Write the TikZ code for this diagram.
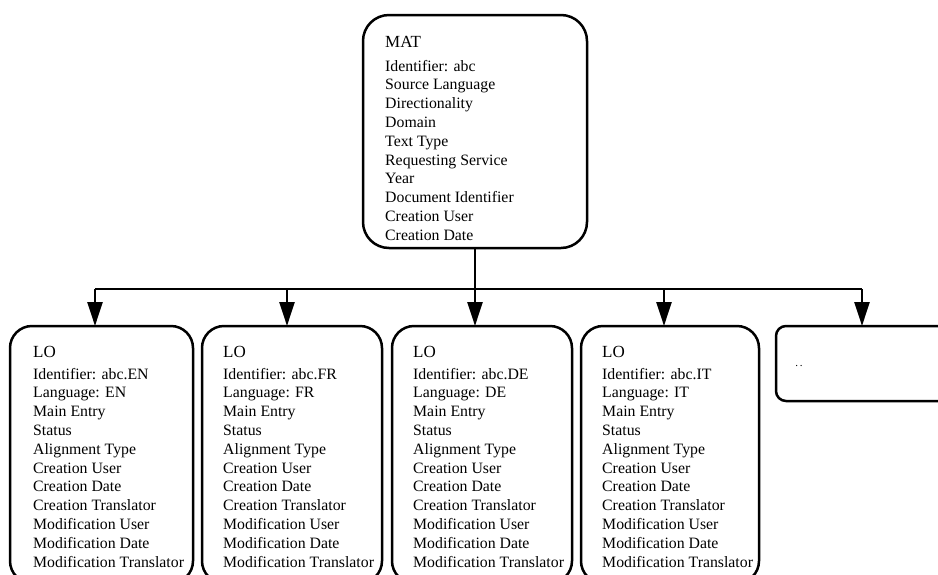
\documentclass[tikz,border=0pt]{standalone}
\usepackage{fontspec}
\setmainfont{Liberation Serif}
\usetikzlibrary{arrows.meta}
\begin{document}
\begin{tikzpicture}[x=1pt,y=-1pt,
  box/.style={draw,line width=2.5pt,rounded corners=22pt,inner sep=0pt,outer sep=0pt,anchor=north west},
  fieldline/.style={anchor=base west,inner sep=0pt,font=\fontsize{15.8}{18.8}\selectfont},
  ttl/.style={anchor=base west,inner sep=0pt,font=\fontsize{17}{20}\selectfont},
  conn/.style={line width=2.5pt},
  arr/.style={conn,-{Triangle[length=24pt,width=15pt]}}]
\useasboundingbox (0,0) rectangle (938,574);

% MAT box
\node[box,rounded corners=26pt,minimum width=224pt,minimum height=233pt] (mat) at (363,15) {};
\node[ttl] (matt) at (385,47) {MAT};
\foreach \f [count=\k] in {Identifier: abc, Source Language, Directionality, Domain, Text Type, Requesting Service, Year, Document Identifier, Creation User, Creation Date}
  \node[fieldline] (matf\k) at (385,{71+18.8*(\k-1)}) {\f};

% LO boxes
\foreach \i/\bx/\w/\tx/\lang in {1/10/183/33/EN,2/202/180/223/FR,3/392/180/413/DE,4/581/178/602/IT}{
  \node[box,minimum width=\w pt,minimum height=257pt] (lo\i) at (\bx,326) {};
  \node[ttl] (lo\i t) at (\tx,357) {LO};
  \foreach \f [count=\k] in {Identifier: abc.\lang, Language: \lang, Main Entry, Status, Alignment Type, Creation User, Creation Date, Creation Translator, Modification User, Modification Date, Modification Translator}
    \node[fieldline] (lo\i f\k) at (\tx,{379+18.8*(\k-1)}) {\f};
}

% fifth (partial) box
\node[box,rounded corners=10pt,minimum width=200pt,minimum height=75pt] (lo5) at (776,326) {};
\node[inner sep=0pt,font=\fontsize{11}{11}\selectfont] (dots) at (799,366) {.\,.};

% connectors
\coordinate (hl) at (95,289);
\coordinate (hr) at (862,289);
\draw[conn] (mat.south) -- (mat.south |- hl);
\draw[conn] (hl) -- (hr);
\foreach \i/\ax in {1/95,2/287,3/475,4/664,5/862}{
  \coordinate (a\i) at (\ax,289);
  \draw[arr] (a\i) -- (a\i |- lo\i.north);
}
\end{tikzpicture}
\end{document}
